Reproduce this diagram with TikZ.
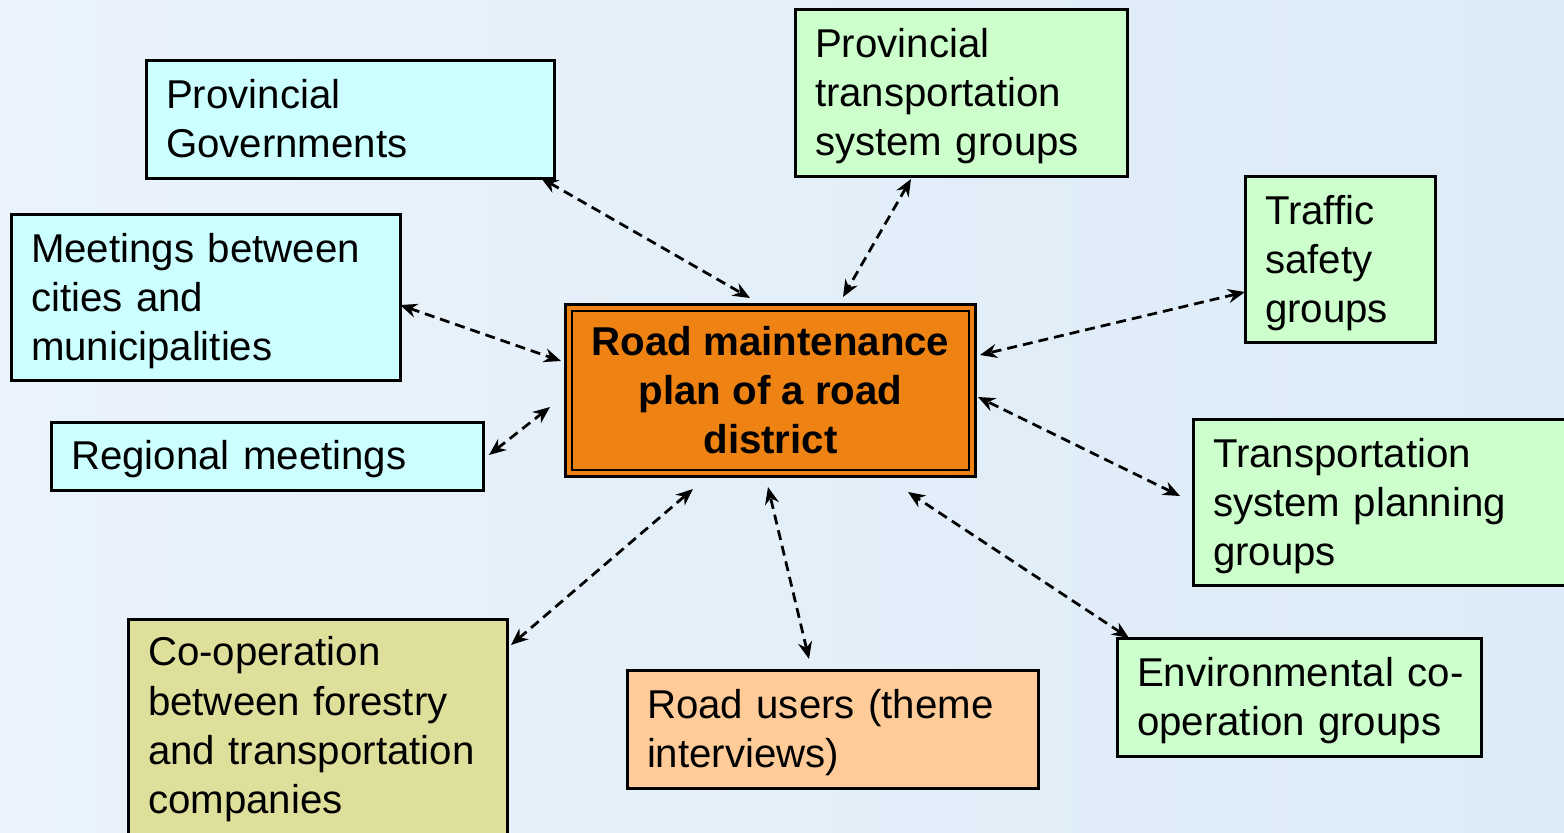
\documentclass[tikz,border=0pt]{standalone}
\usepackage{fontspec}
\setmainfont{Liberation Sans}
\usetikzlibrary{arrows.meta}
\definecolor{bgl}{HTML}{EAF3FB}
\definecolor{bgr}{HTML}{DCEBF7}
\definecolor{cyanbox}{HTML}{CCFFFF}
\definecolor{greenbox}{HTML}{CCFFCC}
\definecolor{orangebox}{HTML}{EE8212}
\definecolor{peachbox}{HTML}{FFCC99}
\definecolor{olivebox}{HTML}{DFDF9C}
\newcommand{\linestrut}{\rule[-0.17cm]{0pt}{0.89cm}}
\begin{document}
\begin{tikzpicture}[x=0.02cm,y=-0.02cm,
 box/.style={draw=black, line width=0.06cm, rectangle, inner xsep=0.4cm, inner ysep=0pt, align=left,
   font=\fontsize{22.9pt}{27.9pt}\selectfont,
   execute at begin node={\linestrut}, execute at end node={\linestrut}},
 link/.style={line width=0.055cm, dash pattern=on 0.2cm off 0.12cm,
   {Stealth[length=0.34cm,width=0.28cm]}-{Stealth[length=0.34cm,width=0.28cm]}}
]
\useasboundingbox (0,0) rectangle (1564,832);
\clip (0,0) rectangle (1564,832);
\shade[left color=bgl, right color=bgr] (0,0) rectangle (1564,832);

% nodes
\node[box, fill=cyanbox, minimum width=8.18cm, minimum height=2.38cm, text width=7.38cm] (pg) at (350.5,119.5)
  {\mbox{Provincial}\\\mbox{Governments}};
\node[box, fill=greenbox, minimum width=6.66cm, minimum height=3.36cm, text width=5.86cm] (ptsg) at (961.5,93)
  {\mbox{Provincial}\\\mbox{transportation}\\\mbox{system groups}};
\node[box, fill=greenbox, minimum width=3.8cm, minimum height=3.34cm, text width=3.0cm] (tsg) at (1340,259.5)
  {\mbox{Traffic}\\\mbox{safety}\\\mbox{groups}};
\node[box, fill=cyanbox, minimum width=7.8cm, minimum height=3.34cm, text width=7.0cm] (mbc) at (206,297.5)
  {\mbox{Meetings between}\\\mbox{cities and}\\\mbox{municipalities}};
\node[box, fill=cyanbox, minimum width=8.66cm, minimum height=1.36cm, text width=7.86cm] (rm) at (267.5,456)
  {\mbox{Regional meetings}};
\node[draw=black, line width=0.05cm, double=orangebox, double distance=0.08cm, fill=orangebox,
  minimum width=8.08cm, minimum height=3.32cm, align=center, inner sep=0pt,
  font=\fontsize{22.9pt}{27.9pt}\selectfont\bfseries] (c) at (770.5,390.5)
  {Road maintenance\\plan of a road\\district};
\node[box, fill=greenbox, minimum width=7.94cm, minimum height=3.34cm, text width=7.14cm] (tspg) at (1391.5,502.5)
  {\mbox{Transportation}\\\mbox{system planning}\\\mbox{groups}};
\node[box, fill=greenbox, minimum width=7.3cm, minimum height=2.36cm, text width=6.5cm] (env) at (1299.5,697)
  {\mbox{Environmental co-}\\\mbox{operation groups}};
\node[box, fill=peachbox, minimum width=8.24cm, minimum height=2.36cm, text width=7.44cm] (ru) at (833,729)
  {\mbox{Road users (theme}\\\mbox{interviews)}};
\node[box, fill=olivebox, minimum width=7.6cm, minimum height=4.7cm, text width=6.8cm] (coop) at (318,736.5)
  {\mbox{Co-operation}\\\mbox{between forestry}\\\mbox{and transportation}\\\mbox{companies}\rule[-0.6cm]{0pt}{0pt}};

% connector end points
\coordinate (pgE) at (541,178);   \coordinate (cPG) at (750,298);
\coordinate (ptsgE) at (911,179); \coordinate (cPTSG) at (843,297);
\coordinate (tsgE) at (1245,292); \coordinate (cTSG) at (980,355);
\coordinate (mbcE) at (400,305);  \coordinate (cMBC) at (561,361);
\coordinate (rmE) at (489,455);   \coordinate (cRM) at (550,407);
\coordinate (tspgE) at (1180,496);\coordinate (cTSPG) at (978,397);
\coordinate (envE) at (1129,638); \coordinate (cENV) at (908,492);
\coordinate (ruE) at (809,659);   \coordinate (cRU) at (768,487);
\coordinate (coopE) at (511,645); \coordinate (cCOOP) at (693,489);

\draw[link] (pgE) -- (cPG);
\draw[link] (ptsgE) -- (cPTSG);
\draw[link] (tsgE) -- (cTSG);
\draw[link] (mbcE) -- (cMBC);
\draw[link] (rmE) -- (cRM);
\draw[link] (tspgE) -- (cTSPG);
\draw[link] (envE) -- (cENV);
\draw[link] (ruE) -- (cRU);
\draw[link] (coopE) -- (cCOOP);
\end{tikzpicture}
\end{document}
